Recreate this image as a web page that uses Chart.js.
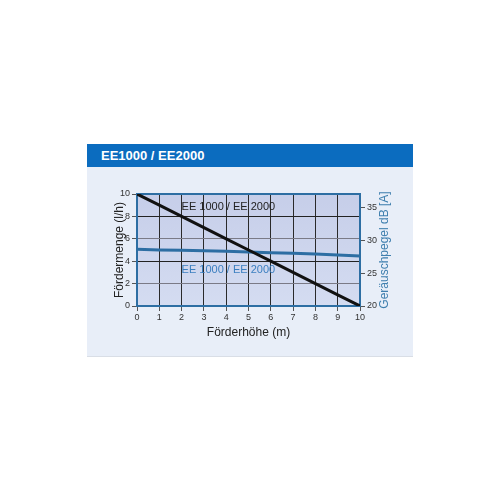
<!DOCTYPE html>
<html>
<head>
<meta charset="utf-8">
<script src="https://cdn.jsdelivr.net/npm/chart.js@4/dist/chart.umd.min.js"></script>
<style>
  body { margin: 0; background: #fff; font-family: "Liberation Sans", Arial, sans-serif; }
  #box { position: absolute; left: 87px; top: 144px; width: 326px; }
  #head { height: 23px; line-height: 24px; background: #0b6cbf; color: #fff; font-weight: bold; font-size: 13px; padding-left: 14px; }
  #panel { height: 189px; background: #e8eef8; border-bottom: 1px solid #d9dee6; }
</style>
</head>
<body>
<div id="box">
  <div id="head">EE1000 / EE2000</div>
  <div id="panel"><canvas id="c" width="326" height="189"></canvas></div>
</div>
<script>
// Förderhöhe (m)
const heights = [0, 1, 2, 3, 4, 5, 6, 7, 8, 9, 10];
// Fördermenge (l/h)
const flow = [10, 9, 8, 7, 6, 5, 4, 3, 2, 1, 0];
// Geräuschpegel dB [A]
const noise = [28.6, 28.5, 28.45, 28.4, 28.3, 28.2, 28.1, 28.0, 27.9, 27.75, 27.6];
const rightTicks = [20, 25, 30, 35];
const seriesLabel = 'EE 1000 / EE 2000';

const blue = '#2d6ea3';

// plot background + border + inline labels
const decor = {
  id: 'decor',
  beforeDraw(chart) {
    const {ctx, chartArea: a} = chart;
    const g = ctx.createLinearGradient(0, a.top, 0, a.bottom);
    g.addColorStop(0, '#c6cee9');
    g.addColorStop(1, '#d4dcf1');
    ctx.save();
    ctx.fillStyle = g;
    ctx.fillRect(a.left, a.top, a.right - a.left, a.bottom - a.top);
    ctx.restore();
  },
  beforeDatasetsDraw(chart) {
    const {ctx, chartArea: a} = chart;
    ctx.save();
    ctx.strokeStyle = blue;
    ctx.lineWidth = 2;
    ctx.strokeRect(a.left, a.top, a.right - a.left, a.bottom - a.top);
    ctx.restore();
  },
  afterDraw(chart) {
    const {ctx, scales} = chart;
    const x = scales.x, y = scales.y, a = chart.chartArea;
    ctx.save();
    ctx.font = '11px "Liberation Sans", Arial, sans-serif';
    ctx.textBaseline = 'middle';
    ctx.fillStyle = '#222';
    ctx.fillText(seriesLabel, x.getPixelForValue(2), y.getPixelForValue(8.85));
    ctx.fillStyle = '#3b7fc0';
    ctx.fillText(seriesLabel, x.getPixelForValue(2), y.getPixelForValue(3.2));
    // right axis title, reading upwards
    ctx.translate(a.right + 25, (a.top + a.bottom) / 2);
    ctx.rotate(-Math.PI / 2);
    ctx.textAlign = 'center';
    ctx.font = '12px "Liberation Sans", Arial, sans-serif';
    ctx.fillStyle = '#3f7fae';
    ctx.fillText('Geräuschpegel dB [A]', 0, 0);
    ctx.restore();
  }
};

const tickFont = {size: 9, family: '"Liberation Sans", Arial, sans-serif'};

new Chart(document.getElementById('c'), {
  type: 'line',
  data: {
    labels: heights,
    datasets: [
      {data: flow, borderColor: '#111', borderWidth: 3, pointRadius: 0, yAxisID: 'y'},
      {data: noise, borderColor: blue, borderWidth: 3, pointRadius: 0, yAxisID: 'y2'}
    ]
  },
  options: {
    responsive: false,
    devicePixelRatio: 1,
    animation: false,
    layout: {padding: {left: 25, right: 34, top: 27, bottom: 16}},
    plugins: {legend: {display: false}, tooltip: {enabled: false}},
    scales: {
      x: {
        type: 'linear', min: 0, max: 10,
        ticks: {stepSize: 1, color: '#333', font: tickFont, padding: 1, maxRotation: 0},
        grid: {color: '#2a2a2a', tickColor: '#555', tickLength: 5, lineWidth: 1},
        border: {display: false},
        title: {display: true, text: 'Förderhöhe (m)', color: '#222', padding: 0,
                font: {size: 12, family: '"Liberation Sans", Arial, sans-serif'}},
        afterFit: s => { s.height = 34; }
      },
      y: {
        position: 'left', min: 0, max: 10,
        ticks: {stepSize: 2, color: '#333', font: tickFont, padding: 2},
        grid: {color: c => (c.tick.value % 4 === 0 ? '#222' : '#7a7a86'), tickColor: '#555', tickLength: 5},
        border: {display: false},
        title: {display: true, text: 'Fördermenge (l/h)', color: '#222', padding: 0,
                font: {size: 12, family: '"Liberation Sans", Arial, sans-serif'}},
        afterFit: s => { s.width = 25; }
      },
      y2: {
        position: 'right', min: 20, max: 37,
        afterBuildTicks: s => { s.ticks = rightTicks.map(v => ({value: v})); },
        ticks: {color: '#333', font: tickFont, padding: 2},
        grid: {drawOnChartArea: false, tickColor: '#555', tickLength: 5},
        border: {display: false},
        afterFit: s => { s.width = 19; }
      }
    }
  },
  plugins: [decor]
});
</script>
</body>
</html>
